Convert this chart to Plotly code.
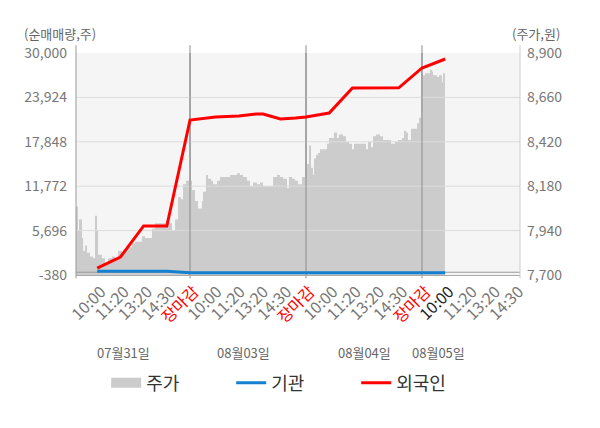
import plotly.graph_objects as go

# x 단위: 하루 = 1.0 (장 시작 0, 장마감 1), 4 거래일
dates = ['07월31일', '08월03일', '08월04일', '08월05일']
date_pos = [0.43, 1.46, 2.5, 3.14]
tick_names = ['10:00', '11:20', '13:20', '14:30', '장마감']

# 주가 (원)
price_x = [0.017, 0.034, 0.043, 0.069, 0.078, 0.095, 0.112, 0.138, 0.164, 0.181,
           0.198, 0.207, 0.241, 0.267, 0.293, 0.328, 0.353, 0.379, 0.414, 0.440,
           0.466, 0.500, 0.526, 0.552, 0.586, 0.612, 0.638, 0.672, 0.698, 0.724,
           0.767, 0.810, 0.845, 0.871, 0.897, 0.922, 0.940, 0.966, 0.983, 0.995,
           1.000, 1.017, 1.043, 1.069, 1.103, 1.112, 1.138, 1.155, 1.181, 1.198,
           1.233, 1.259, 1.284, 1.319, 1.345, 1.371, 1.405, 1.431, 1.457, 1.491,
           1.517, 1.543, 1.578, 1.603, 1.629, 1.664, 1.690, 1.716, 1.750, 1.776,
           1.802, 1.836, 1.853, 1.879, 1.905, 1.931, 1.966, 1.991,
           2.000, 2.009, 2.026, 2.043, 2.060, 2.069, 2.086, 2.103, 2.121, 2.147,
           2.181, 2.198, 2.224, 2.241, 2.267, 2.284, 2.319, 2.345, 2.371, 2.397,
           2.414, 2.448, 2.491, 2.517, 2.534, 2.560, 2.578, 2.603, 2.638, 2.664,
           2.698, 2.733, 2.767, 2.793, 2.828, 2.845, 2.862, 2.879, 2.905, 2.931,
           2.957, 2.974, 2.991,
           3.009, 3.026, 3.043, 3.069, 3.086, 3.095, 3.129, 3.147, 3.172, 3.181, 3.198]
price = [8070, 7940, 8000, 7900, 7830, 7860, 7820, 7800, 7790, 8020,
         7940, 7810, 7790, 7760, 7790, 7800, 7790, 7830, 7820, 7840,
         7850, 7870, 7880, 7880, 7910, 7900, 7900, 7950, 7980, 7980,
         7980, 7980, 7940, 8000, 8120, 8110, 8190, 8210, 8210, 8280,
         8210, 8160, 8100, 8060, 8100, 8150, 8240, 8220, 8210, 8190,
         8210, 8230, 8230, 8230, 8240, 8240, 8250, 8240, 8230, 8210,
         8180, 8200, 8190, 8200, 8180, 8180, 8180, 8230, 8240, 8230,
         8220, 8170, 8230, 8220, 8210, 8190, 8230, 8230,
         8220, 8300, 8400, 8280, 8240, 8330, 8350, 8360, 8380, 8380,
         8410, 8440, 8440, 8470, 8440, 8460, 8450, 8420, 8410, 8380,
         8410, 8410, 8410, 8380, 8420, 8390, 8450, 8460, 8450, 8430,
         8430, 8410, 8420, 8430, 8440, 8480, 8470, 8430, 8490, 8490,
         8520, 8550, 8580,
         8780, 8790, 8790, 8810, 8800, 8780, 8770, 8780, 8740, 8790, 8790]

# 순매매량 (주)
flow_x = [0.2, 0.4, 0.6, 0.8, 1.0, 1.08, 1.22, 1.42, 1.57, 1.63, 1.71, 1.78, 1.91,
          2.0, 2.1, 2.2, 2.4, 2.6, 2.8, 3.0, 3.2]
foreign = [560, 2080, 6330, 6330, 20830, 20970, 21240, 21380, 21650, 21650, 21240,
           20970, 21100, 21240, 21520, 21790, 25210, 25240, 25240, 27950, 29180]
inst = [120, 120, 120, 120, -80, -80, -80, -80, -80, -80, -80,
        -80, -80, -80, -80, -80, -80, -80, -80, -80, -80]

left_ticks = [-380, 5696, 11772, 17848, 23924, 30000]
right_ticks = [7700, 7940, 8180, 8420, 8660, 8900]
x_range = [0.017, 3.845]
day_breaks = [1, 2, 3]

tickvals, ticktext = [], []
for d in range(4):
    for i, name in enumerate(tick_names):
        pos = d + 0.2 * (i + 1)
        if pos > x_range[1]:
            continue
        tickvals.append(pos)
        if name == '장마감':
            ticktext.append('<span style="color:#ff0000">' + name + '</span>')
        elif d == 3 and i == 0:
            ticktext.append('<span style="color:#222222">' + name + '</span>')
        else:
            ticktext.append(name)

# 주가 영역 위에 그려지는 격자선 / 구분선
grid_x, grid_y = [], []
for v in left_ticks[1:-1]:
    grid_x += [x_range[0], x_range[1], None]
    grid_y += [v, v, None]
sep_x, sep_y = [], []
for d in day_breaks:
    sep_x += [d, d, None]
    sep_y += [left_ticks[0], left_ticks[-1], None]

fig = go.Figure()
fig.add_trace(go.Scatter(x=price_x, y=price, name='주가', yaxis='y', mode='lines',
                         line=dict(shape='hv', width=0, color='#cccccc'),
                         fill='tozeroy', fillcolor='#cccccc', hoverinfo='skip',
                         showlegend=False))
fig.add_trace(go.Scatter(x=[None], y=[None], name='주가', yaxis='y', mode='lines',
                         line=dict(width=14, color='#cccccc')))
fig.add_trace(go.Scatter(x=grid_x, y=grid_y, yaxis='y2', mode='lines', showlegend=False,
                         line=dict(color='#dcdcdc', width=1), hoverinfo='skip'))
fig.add_trace(go.Scatter(x=sep_x, y=sep_y, yaxis='y2', mode='lines', showlegend=False,
                         line=dict(color='#8c8c8c', width=1), hoverinfo='skip'))
fig.add_trace(go.Scatter(x=x_range, y=[0, 0], yaxis='y2', mode='lines', showlegend=False,
                         line=dict(color='#999999', width=1), hoverinfo='skip'))
fig.add_trace(go.Scatter(x=flow_x, y=inst, name='기관', yaxis='y2', mode='lines',
                         line=dict(color='#1580cf', width=3)))
fig.add_trace(go.Scatter(x=flow_x, y=foreign, name='외국인', yaxis='y2', mode='lines',
                         line=dict(color='#ff0000', width=3)))

# 날짜 구분선 (영역 밖으로 조금 나온 부분)
for d in day_breaks:
    fig.add_shape(type='line', x0=d, x1=d, xref='x', y0=-0.015, y1=1.035, yref='paper',
                  line=dict(color='#8c8c8c', width=1), layer='below')
fig.add_shape(type='line', x0=0, x1=0, xref='paper', y0=-0.015, y1=1.035, yref='paper',
              line=dict(color='#999999', width=1))
fig.add_shape(type='line', x0=1, x1=1, xref='paper', y0=-0.015, y1=1.035, yref='paper',
              line=dict(color='#cccccc', width=1))

for name, pos in zip(dates, date_pos):
    fig.add_annotation(x=pos, xref='x', y=-0.351, yref='paper', yanchor='middle',
                       text=name, showarrow=False, font=dict(size=13, color='#666666'))
fig.add_annotation(x=-0.122, xref='paper', y=1.09, yref='paper', yanchor='middle',
                   text='(순매매량,주)', showarrow=False, xanchor='left',
                   font=dict(size=13, color='#666666'))
fig.add_annotation(x=1.095, xref='paper', y=1.09, yref='paper', yanchor='middle',
                   text='(주가,원)', showarrow=False, xanchor='right',
                   font=dict(size=13, color='#666666'))

# 페이지 body 여백(8px)을 감안한 여백
fig.update_layout(
    width=600, height=428,
    margin=dict(l=68, r=88, t=45, b=161),
    paper_bgcolor='white', plot_bgcolor='#f5f5f5',
    font=dict(family='Noto Sans CJK KR', size=14, color='#666666'),
    xaxis=dict(range=x_range, tickmode='array', tickvals=tickvals, ticktext=ticktext,
               tickangle=-45, showgrid=False, zeroline=False, showline=True,
               linecolor='#aaaaaa', automargin=False, ticklabelshift=4,
               tickfont=dict(size=16, color='#777777')),
    yaxis=dict(range=[7700, 8900], tickmode='array', tickvals=right_ticks,
               ticktext=[f'{v:,}' for v in right_ticks], side='right',
               showgrid=False, zeroline=False, ticklabelstandoff=6, automargin=False,
               tickfont=dict(size=14, color='#777777')),
    yaxis2=dict(range=[-380, 30000], tickmode='array', tickvals=left_ticks,
                ticktext=[f'{v:,}' for v in left_ticks], side='left', overlaying='y',
                showgrid=False, zeroline=False, ticklabelstandoff=8, automargin=False,
                tickfont=dict(size=14, color='#777777')),
    legend=dict(orientation='h', x=0.068, xanchor='left', y=-0.487, yanchor='middle',
                font=dict(size=18, color='#333333'), entrywidth=80),
    showlegend=True,
)

fig.write_html('out.html')
